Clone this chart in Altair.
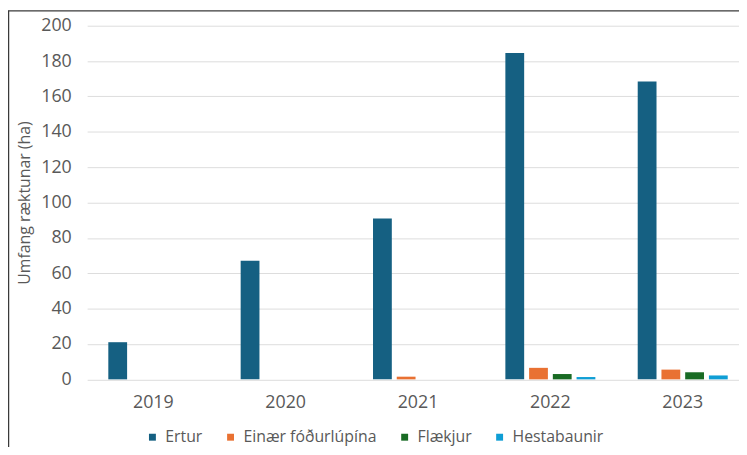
import altair as alt
import pandas as pd

years = ["2019", "2020", "2021", "2022", "2023"]
series = ["Ertur", "Einær fóðurlúpína", "Flækjur", "Hestabaunir"]
colors = ["#156082", "#E97132", "#196B24", "#0F9ED5"]
ertur = [21, 67, 91, 184.5, 168.5]
lupina = [0, 0, 1.5, 6.5, 5.5]
flaekjur = [0, 0, 0, 3, 4]
hesta = [0, 0, 0, 1.3, 2.2]
y_ticks = [0, 20, 40, 60, 80, 100, 120, 140, 160, 180, 200]
y_title = "Umfang ræktunar (ha)"

rows = []
for s, vals in zip(series, [ertur, lupina, flaekjur, hesta]):
    for yr, v in zip(years, vals):
        rows.append({"Ár": yr, "Tegund": s, "ha": v})
df = pd.DataFrame(rows)

FONT = "Open Sans"
GRAY = "#595959"
W, H = 659, 357.5

bars = alt.Chart(df).mark_bar().encode(
    x=alt.X(
        "Ár:N", sort=years,
        scale=alt.Scale(range=[0, 669], paddingInner=0.32, paddingOuter=0.16),
        axis=alt.Axis(title=None, labelAngle=0, domain=False, ticks=False,
                      labelPadding=14, labelFontSize=18, labelColor=GRAY, labelFont=FONT),
    ),
    xOffset=alt.XOffset("Tegund:N", sort=series,
                        scale=alt.Scale(paddingInner=0.208, paddingOuter=0)),
    y=alt.Y(
        "ha:Q",
        scale=alt.Scale(domain=[0, 200], nice=False),
        axis=alt.Axis(values=y_ticks, title=y_title, domain=False, ticks=False,
                      labelPadding=16, labelFontSize=18, labelColor=GRAY, labelFont=FONT,
                      gridColor="#DDDDDD", gridWidth=1,
                      titleFont=FONT, titleFontSize=16, titleColor=GRAY, titleFontWeight="normal",
                      titleX=-63, titleY=H / 2, titleBaseline="middle", titleAlign="center", titleAngle=270),
    ),
    color=alt.Color(
        "Tegund:N", sort=series,
        scale=alt.Scale(domain=series, range=colors),
        legend=alt.Legend(title=None, orient="none", direction="horizontal",
                          legendX=58, legendY=408, symbolType="square", symbolSize=49,
                          symbolStrokeWidth=0, labelFont=FONT, labelFontSize=16, labelColor=GRAY,
                          labelOffset=5, columnPadding=20, padding=0),
    ),
)

one = pd.DataFrame({"k": [0]})
frame_top = alt.Chart(one).mark_rule(color="#3a3a3a", strokeWidth=1.5).encode(
    x=alt.value(-80), x2=alt.value(W), y=alt.value(-15)
)
frame_left = alt.Chart(one).mark_rule(color="#3a3a3a", strokeWidth=1.5).encode(
    x=alt.value(-79.5), y=alt.value(-15), y2=alt.value(432)
)

chart = alt.layer(bars, frame_top, frame_left).properties(
    width=W, height=H,
    autosize=alt.AutoSizeParams(type="none"),
    padding={"left": 80, "top": 15.5, "right": 0, "bottom": 66},
).configure(font=FONT, background="white").configure_view(stroke=None)

chart.save("out.html", embed_options={"renderer": "svg", "actions": False})
